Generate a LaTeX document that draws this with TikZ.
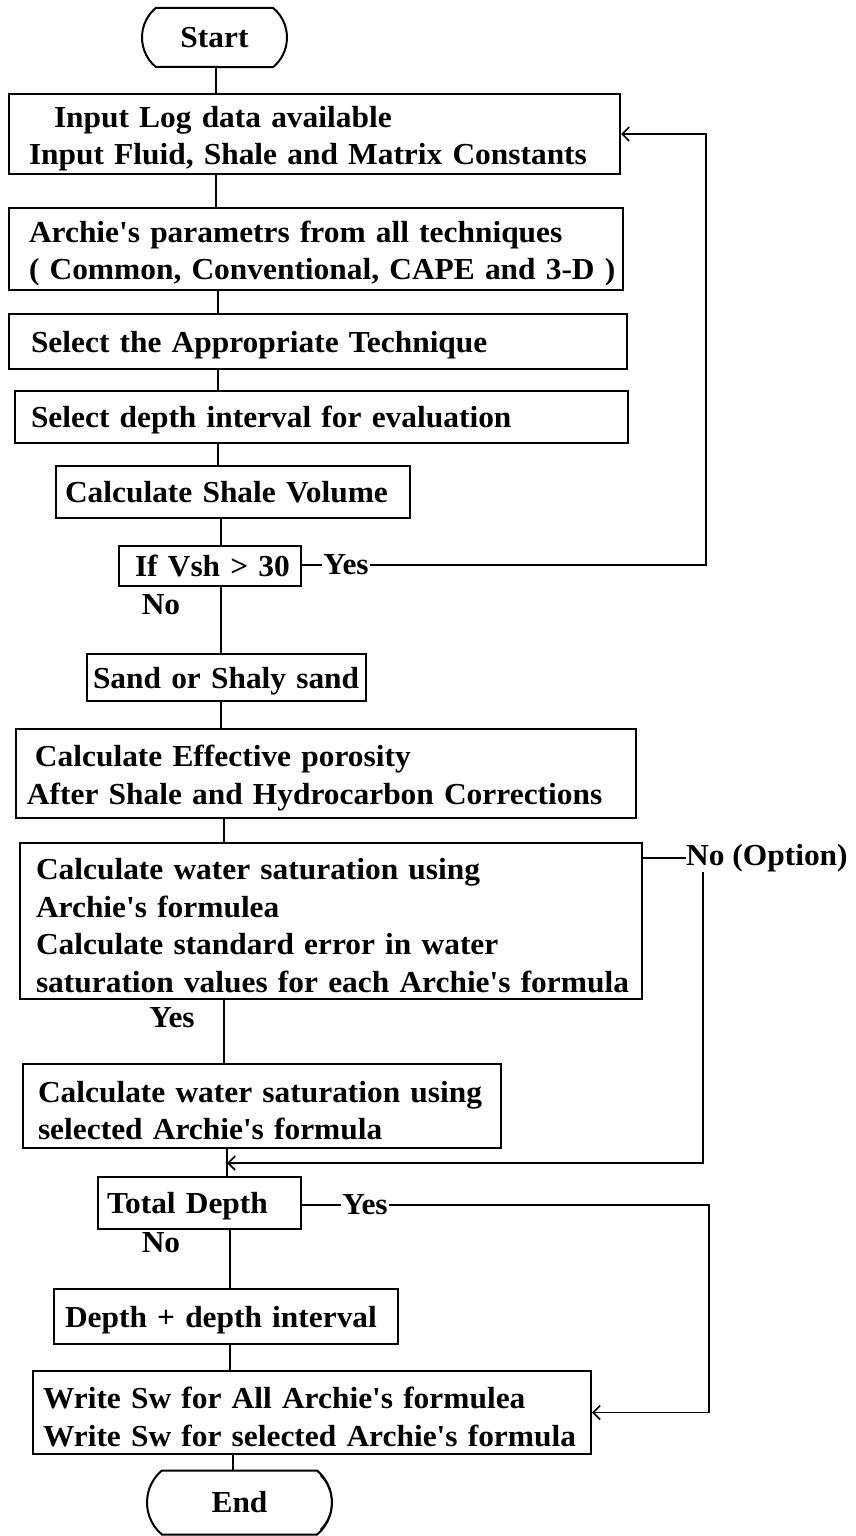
\documentclass[tikz,border=0pt]{standalone}
\usepackage{fontspec}
\setmainfont{Liberation Serif}[FakeStretch=1.03,Ligatures=TeXOff]
\usetikzlibrary{arrows.meta,shapes.misc}
\newcommand\boxtail{\endgraf\vspace*{-9pt}}
\begin{document}
\begin{tikzpicture}[x=1pt,y=-1pt,
  every node/.style={font=\fontsize{30.5}{37.5}\selectfont\bfseries},
  box/.style={draw,line width=2pt,rectangle,anchor=north west,align=left,inner ysep=0pt,
    execute at end node=\boxtail},
  term/.style={draw,line width=2pt,rounded rectangle,rounded rectangle arc length=100,inner sep=0pt},
  lab/.style={inner sep=1pt},
  conn/.style={line width=1.6pt},
  arr/.style={line width=1.6pt,-{Straight Barb[length=7pt,width=14pt]}}]
\useasboundingbox[fill=white] (0,0) rectangle (855,1536);

% nodes
\node[term,minimum width=145pt,minimum height=59pt] (start) at (214.5,37.5) {Start};
\node[box,minimum width=611pt,minimum height=80pt,text width=571pt,inner xsep=20pt] (b1) at (8,93)
  {\mbox{\hspace*{25pt}Input Log data available}\\\mbox{Input Fluid, Shale and Matrix Constants}};
\node[box,minimum width=614pt,minimum height=82pt,text width=574pt,inner xsep=20pt] (b2) at (8,207)
  {\mbox{Archie's parametrs from all techniques}\\\mbox{( Common, Conventional, CAPE and 3-D )}};
\node[box,minimum width=618pt,minimum height=55pt,text width=574pt,inner xsep=22pt] (b3) at (8,313)
  {\mbox{Select the Appropriate Technique}};
\node[box,minimum width=613pt,minimum height=52pt,text width=581pt,inner xsep=16pt] (b4) at (14,390)
  {\mbox{Select depth interval for evaluation}};
\node[box,minimum width=354pt,minimum height=52pt,text width=336pt,inner xsep=9pt] (b5) at (55,465)
  {\mbox{Calculate Shale Volume}};
\node[box,minimum width=182pt,minimum height=40pt,text width=150pt,inner xsep=16pt] (dec) at (118,545)
  {\mbox{If Vsh > 30}};
\node[box,minimum width=279pt,minimum height=47pt,text width=267pt,inner xsep=6pt] (sand) at (86,653)
  {\mbox{Sand or Shaly sand}};
\node[box,minimum width=620pt,minimum height=89pt,text width=598pt,inner xsep=11pt] (eff) at (15,728)
  {\mbox{\hspace*{8pt}Calculate Effective porosity}\\\mbox{After Shale and Hydrocarbon Corrections}};
\node[box,minimum width=622pt,minimum height=156pt,text width=590pt,inner xsep=16pt] (ws) at (19,842)
  {\mbox{Calculate water saturation using}\\\mbox{Archie's formulea}\\\mbox{Calculate standard error in water}\\\mbox{saturation values for each Archie's formula}};
\node[box,minimum width=478pt,minimum height=84pt,text width=448pt,inner xsep=15pt] (wsel) at (22,1063)
  {\mbox{Calculate water saturation using}\\\mbox{selected Archie's formula}};
\node[box,minimum width=203pt,minimum height=52pt,text width=185pt,inner xsep=9pt] (td) at (97,1176)
  {\mbox{Total Depth}};
\node[box,minimum width=344pt,minimum height=55pt,text width=322pt,inner xsep=11pt] (dpi) at (53,1288)
  {\mbox{Depth + depth interval}};
\node[box,minimum width=558pt,minimum height=83pt,text width=538pt,inner xsep=10pt] (wr) at (32,1370)
  {\mbox{Write Sw for All Archie's formulea}\\\mbox{Write Sw for selected Archie's formula}};
\node[term,minimum width=185pt,minimum height=64pt] (end) at (239.5,1502.5) {End};
\draw[line width=1.2pt] ([xshift=3pt,yshift=-6pt]end.north east) to[out=-45,in=45] ([xshift=3pt,yshift=6pt]end.south east);

% labels
\node[lab] (yes1) at (346,565) {Yes};
\node[lab] (no1) at (161,605) {No};
\node[lab,anchor=west,inner sep=0pt] (opt) at (686,858) {No (Option)};
\node[lab] (yes2) at (172,1018) {Yes};
\node[lab] (yes3) at (365,1205) {Yes};
\node[lab] (no2) at (161,1243) {No};

% spine coordinates
\coordinate (s1) at (216,0);
\coordinate (s2) at (218,0);
\coordinate (s3) at (221,0);
\coordinate (s4) at (224,0);
\coordinate (s5) at (227,0);
\coordinate (s6) at (230,0);
\coordinate (s7) at (233,0);

% main connectors
\draw[conn] (start.south -| s1) -- (b1.north -| s1);
\draw[conn] (b1.south -| s1) -- (b2.north -| s1);
\draw[conn] (b2.south -| s2) -- (b3.north -| s2);
\draw[conn] (b3.south -| s2) -- (b4.north -| s2);
\draw[conn] (b4.south -| s2) -- (b5.north -| s2);
\draw[conn] (b5.south -| s3) -- (dec.north -| s3);
\draw[conn] (dec.south -| s3) -- (sand.north -| s3);
\draw[conn] (sand.south -| s3) -- (eff.north -| s3);
\draw[conn] (eff.south -| s4) -- (ws.north -| s4);
\draw[conn] (ws.south -| s4) -- (wsel.north -| s4);
\draw[conn] (wsel.south -| s5) -- (td.north -| s5);
\draw[conn] (td.south -| s6) -- (dpi.north -| s6);
\draw[conn] (dpi.south -| s6) -- (wr.north -| s6);
\draw[conn] (wr.south -| s7) -- (end.north -| s7);

% Vsh loop
\coordinate (c1) at (706,565);
\draw[conn] (dec.east |- yes1) -- (yes1.west);
\draw[arr] (yes1.east) -- (c1) -- (c1 |- b1.east) -- (b1.east);

% option loop
\coordinate (ox) at (703,0);
\coordinate (m1) at (227,1163);
\draw[conn] (ws.east |- opt) -- (opt.west);
\draw[arr] (opt.south -| ox) -- (ox |- m1) -- (m1);

% total depth loop
\coordinate (c2) at (709,1205);
\draw[conn] (td.east |- yes3) -- (yes3.west);
\draw[arr] (yes3.east) -- (c2) -- (c2 |- wr.east) -- (wr.east);
\end{tikzpicture}
\end{document}
